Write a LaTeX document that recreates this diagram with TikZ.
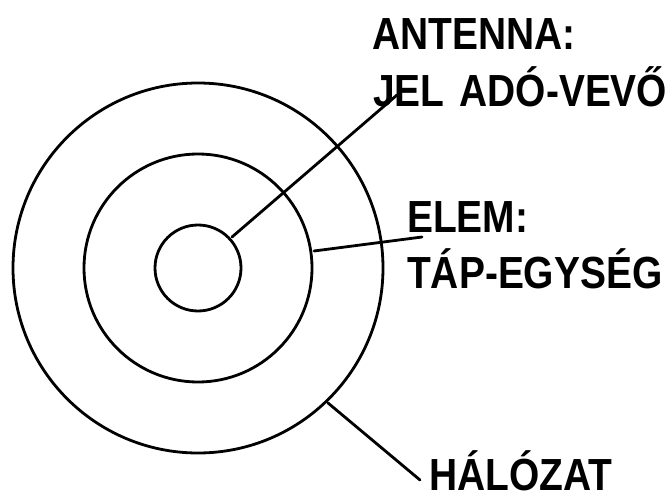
\documentclass[tikz,border=0pt]{standalone}
\usepackage{fontspec}
\newfontfamily\lab{Liberation Sans}[FakeStretch=0.865]
\begin{document}
\begin{tikzpicture}[x=1pt,y=-1pt,
  ring/.style={draw=black,line width=2.8pt},
  lead/.style={draw=black,line width=2.8pt,line cap=round},
  lbl/.style={inner sep=0pt,anchor=base west,text depth=0pt,font=\lab\bfseries\fontsize{45}{57}\selectfont}]
\useasboundingbox (0,0) rectangle (668,494);
\coordinate (c) at (198,268);
\draw[ring] (c) circle[radius=185pt];
\draw[ring] (c) circle[radius=114pt];
\draw[ring] (c) circle[radius=43pt];
\node[lbl] (ant1) at (372,50) {ANTENNA:};
\node[lbl] (ant2) at (373,107) {\spaceskip=15pt\relax JEL ADÓ-VEVŐ};
\node[lbl] (elem1) at (407,232) {ELEM:};
\node[lbl] (elem2) at (407,288) {TÁP-EGYSÉG};
\node[lbl] (hal) at (429,490) {HÁLÓZAT};
\coordinate (a0) at (232,237);
\coordinate (a1) at (397,95);
\coordinate (e0) at (314,251);
\coordinate (e1) at (422,237);
\coordinate (h0) at (328,403);
\coordinate (h1) at (420,480);
\draw[lead] (a0) -- (a1);
\draw[lead] (e0) -- (e1);
\draw[lead] (h0) -- (h1);
\end{tikzpicture}
\end{document}
